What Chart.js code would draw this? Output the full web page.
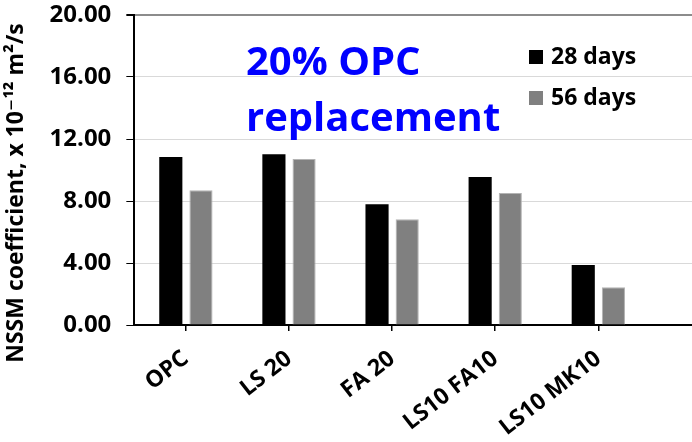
<!DOCTYPE html>
<html>
<head>
<meta charset="utf-8">
<script src="https://cdn.jsdelivr.net/npm/chart.js@4.4.1/dist/chart.umd.min.js"></script>
<style>
  html, body { margin: 0; padding: 0; background: #fff; overflow: hidden; }
  #wrap { width: 763px; height: 442px; position: relative; }
</style>
</head>
<body>
<div id="wrap"><canvas id="nssmChart"></canvas></div>
<script>
// mixes (last one empty: the plot runs on past the picture's right edge)
const mixes = ['OPC', 'LS 20', 'FA 20', 'LS10 FA10', 'LS10 MK10', ''];
const days28 = [10.84, 11.01, 7.79, 9.55, 3.87, null];
const days56 = [8.69, 10.71, 6.82, 8.52, 2.43, null];
const yTicks = [0, 4, 8, 12, 16, 20];

const FONT = "'Open Sans', 'DejaVu Sans', sans-serif";

// legend + "20% OPC replacement" note, drawn inside the plot
const notePlugin = {
  id: 'note',
  afterDraw(chart) {
    const ctx = chart.ctx;
    ctx.save();
    ctx.fillStyle = '#0000ff';
    ctx.font = 'bold 40px ' + FONT;
    ctx.textBaseline = 'alphabetic';
    ctx.textAlign = 'left';
    ctx.fillText('20% OPC', 246, 75);
    ctx.fillText('replacement', 246, 131);

    const rows = [57, 98];
    chart.data.datasets.forEach((ds, i) => {
      ctx.fillStyle = ds.backgroundColor;
      ctx.fillRect(529, rows[i] - 7, 14, 14);
      ctx.fillStyle = '#000';
      ctx.font = 'bold 23px ' + FONT;
      ctx.textBaseline = 'middle';
      ctx.fillText(ds.label, 551, rows[i]);
    });
    ctx.restore();
  }
};

const nssmChart = new Chart(document.getElementById('nssmChart'), {
  type: 'bar',
  data: {
    labels: mixes,
    datasets: [
      { label: '28 days', data: days28, backgroundColor: '#000000',
        borderWidth: 0, categoryPercentage: 0.585, barPercentage: 0.767 },
      { label: '56 days', data: days56, backgroundColor: '#808080',
        borderColor: '#b3b3b3', borderWidth: 1, borderSkipped: 'bottom',
        categoryPercentage: 0.585, barPercentage: 0.767 }
    ]
  },
  options: {
    responsive: true,
    maintainAspectRatio: false,
    animation: false,
    layout: { padding: { left: 1, top: 15, right: 10, bottom: 0 } },
    plugins: {
      legend: { display: false },
      tooltip: { enabled: false }
    },
    scales: {
      x: {
        afterFit: s => { s.height = 117; },
        grid: { display: true, drawOnChartArea: false, offset: false,
                tickLength: 6, tickColor: '#000', lineWidth: 1.5 },
        border: { color: '#000', width: 2 },
        ticks: {
          color: '#000', font: { family: FONT, size: 23, weight: 'bold' },
          minRotation: 38, maxRotation: 38, autoSkip: false, padding: 14
        }
      },
      y: {
        min: 0, max: 20,
        afterBuildTicks: s => { s.ticks = yTicks.map(v => ({ value: v })); },
        afterFit: s => { s.paddingTop = 0; s.paddingBottom = 0; },
        grid: {
          color: c => c.tick && c.tick.value === 20 ? '#8c8c8c' : '#d9d9d9',
          tickColor: '#000', tickLength: 8, lineWidth: c => c.tick && c.tick.value === 20 ? 2 : 1
        },
        border: { color: '#000', width: 2 },
        ticks: {
          color: '#000', padding: 15,
          font: { family: FONT, size: 24, weight: 'bold' },
          callback: v => Number(v).toFixed(2)
        },
        title: {
          display: true,
          text: 'NSSM coefficient, x 10\u207B\u00B9\u00B2 m\u00B2/s\u2003\u2003',
          color: '#000',
          font: { family: FONT, size: 23, weight: 'bold' },
          padding: { top: 2, bottom: 4 }
        }
      }
    }
  },
  plugins: [notePlugin]
});
</script>
</body>
</html>
